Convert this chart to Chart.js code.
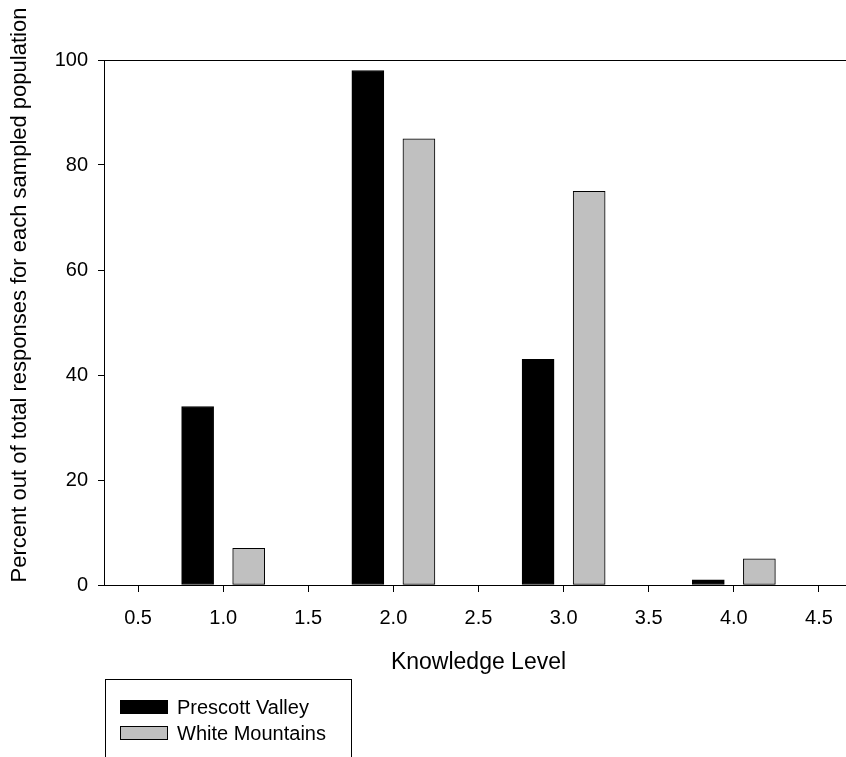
<!DOCTYPE html>
<html>
<head>
<meta charset="utf-8">
<script src="https://cdn.jsdelivr.net/npm/chart.js@4"></script>
<style>
  html, body { margin: 0; padding: 0; background: #fff; overflow: hidden; }
  #wrap { position: relative; width: 870px; height: 757px; }
  #legend {
    position: absolute; left: 105px; top: 679px; width: 247px; height: 120px;
    border: 1px solid #000; box-sizing: border-box;
    font-family: 'Liberation Sans', Arial, sans-serif; font-size: 20px; color: #000;
  }
  #legend .row { position: absolute; left: 14px; height: 16px; display: flex; align-items: center; }
  #legend .sw { width: 48px; height: 14px; box-sizing: border-box; border: 1px solid #000; margin-right: 9px; }
</style>
</head>
<body>
<div id="wrap">
  <canvas id="chart" width="870" height="757"></canvas>
  <div id="legend"></div>
</div>
<script>
// data
const levels = [1, 2, 3, 4];
const prescottValley = [34, 98, 43, 1];
const whiteMountains = [7, 85, 75, 5];
const seriesNames = ['Prescott Valley', 'White Mountains'];
const yTicks = { min: 0, max: 100, step: 20 };
const xTicks = { min: 0.3, max: 4.7, step: 0.5 };

const palette = {
  ink: '#000000',
  prescott: '#000000',
  white: '#c0c0c0',
};
const font = "'Liberation Sans', Arial, sans-serif";
const barOffset = 0.15; // half the gap between paired bars, in level units

Chart.defaults.font.family = font;
Chart.defaults.color = palette.ink;

const pairs = (vals, shift) => levels.map((lv, i) => ({ x: lv + shift, y: vals[i] }));

// top frame line + rotated y title (centred where the original sits)
const frame = {
  id: 'frame',
  afterDraw(chart) {
    const { ctx, chartArea } = chart;
    ctx.save();
    ctx.strokeStyle = palette.ink;
    ctx.lineWidth = 1;
    ctx.beginPath();
    ctx.moveTo(chartArea.left, chartArea.top + 0.5);
    ctx.lineTo(chart.width, chartArea.top + 0.5);
    ctx.stroke();

    ctx.translate(20, 295);
    ctx.rotate(-Math.PI / 2);
    ctx.font = '22px ' + font;
    ctx.fillStyle = palette.ink;
    ctx.textAlign = 'center';
    ctx.textBaseline = 'middle';
    ctx.fillText('Percent out of total responses for each sampled population', 0, 0);
    ctx.restore();
  },
};

new Chart(document.getElementById('chart'), {
  type: 'bar',
  data: {
    datasets: [
      {
        label: seriesNames[0],
        data: pairs(prescottValley, -barOffset),
        backgroundColor: palette.prescott,
        borderColor: palette.ink,
        borderWidth: 1,
        borderSkipped: false,
      },
      {
        label: seriesNames[1],
        data: pairs(whiteMountains, barOffset),
        backgroundColor: palette.white,
        borderColor: palette.ink,
        borderWidth: 1,
        borderSkipped: false,
      },
    ],
  },
  options: {
    responsive: false,
    animation: false,
    grouped: false,
    barThickness: 32,
    layout: { padding: { top: 60, right: 17, left: 0, bottom: 0 } },
    plugins: { legend: { display: false }, tooltip: { enabled: false } },
    scales: {
      x: {
        type: 'linear',
        offset: false,
        min: xTicks.min,
        max: xTicks.max,
        afterFit: (s) => { s.height = 172; },
        ticks: {
          stepSize: xTicks.step,
          includeBounds: false,
          padding: 14,
          font: { size: 20 },
          callback: (v) => Number(v).toFixed(1),
        },
        grid: { offset: false, drawOnChartArea: false, drawTicks: true, tickLength: 7, color: palette.ink },
        border: { color: palette.ink, width: 1 },
        title: {
          display: true,
          text: 'Knowledge Level',
          font: { size: 23 },
          padding: { top: 0, bottom: 81 },
        },
      },
      y: {
        min: yTicks.min,
        max: yTicks.max,
        afterFit: (s) => { s.width = 104; },
        ticks: { stepSize: yTicks.step, padding: 10, font: { size: 20 } },
        grid: { drawOnChartArea: false, drawTicks: true, tickLength: 6, color: palette.ink },
        border: { color: palette.ink, width: 1 },
      },
    },
  },
  plugins: [frame],
});

// legend box under the plot
const legend = document.getElementById('legend');
[palette.prescott, palette.white].forEach((c, i) => {
  const row = document.createElement('div');
  row.className = 'row';
  row.style.top = (19 + i * 26) + 'px';
  row.innerHTML = '<span class="sw" style="background:' + c + '"></span><span>' + seriesNames[i] + '</span>';
  legend.appendChild(row);
});
</script>
</body>
</html>
